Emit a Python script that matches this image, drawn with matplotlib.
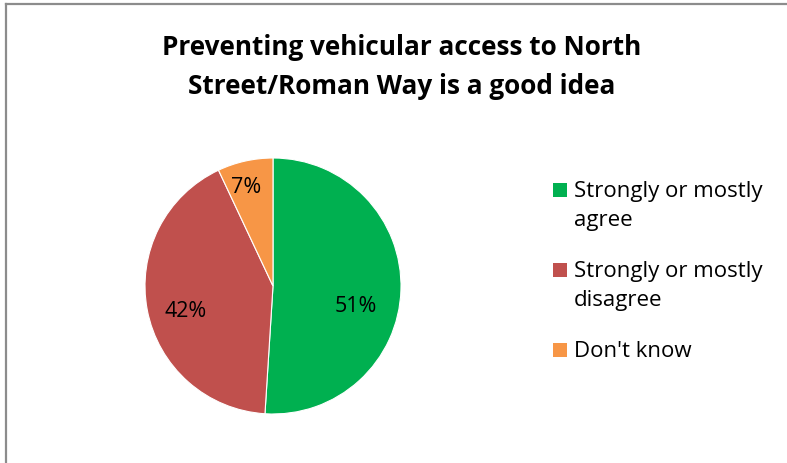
import matplotlib
matplotlib.use("Agg")
import matplotlib.pyplot as plt
from matplotlib.patches import Rectangle
from matplotlib.lines import Line2D

plt.rcParams['font.family'] = ['Open Sans', 'DejaVu Sans']

title = "Preventing vehicular access to North\nStreet/Roman Way is a good idea"
categories = ["Strongly or mostly\nagree", "Strongly or mostly\ndisagree", "Don't know"]
values = [51, 42, 7]
colors = ["#00B050", "#C0504D", "#F79646"]
label_pos = [(0.648, -0.164), (-0.68, -0.203), (-0.21, 0.766)]

W, H = 787, 463
fig = plt.figure(figsize=(W / 100, H / 100), dpi=100)
fig.patch.set_facecolor("white")

# chart border (top and left visible)
fig.add_artist(Line2D([6 / W, 6 / W], [0, 1 - 3.5 / H], transform=fig.transFigure,
                      color="#8c8c8c", lw=1.6))
fig.add_artist(Line2D([6 / W, 1], [1 - 3.5 / H, 1 - 3.5 / H], transform=fig.transFigure,
                      color="#8c8c8c", lw=1.6))

cx, cy, r = 273, 286, 128
ax = fig.add_axes([(cx - r) / W, (H - cy - r) / H, 2 * r / W, 2 * r / H])
wedges, texts, autotexts = ax.pie(values, colors=colors, startangle=90, counterclock=False,
                                  autopct=lambda p: f"{p:.0f}%", pctdistance=0.7,
                                  wedgeprops=dict(edgecolor="white", linewidth=0.8),
                                  textprops=dict(fontsize=15.5, color="black"))
for t, pos in zip(autotexts, label_pos):
    t.set_position(pos)
ax.set_xlim(-1, 1)
ax.set_ylim(-1, 1)
ax.set_aspect("equal")
ax.axis("off")

fig.text(402 / W, 1 - 67 / H, title, ha="center", va="center", fontsize=18.8,
         fontweight="bold", linespacing=1.55)

# legend
entry_y = [190, 270, 350]
for cat, col, y in zip(categories, colors, entry_y):
    fig.add_artist(Rectangle((553 / W, 1 - (y + 7) / H), 14 / W, 14 / H,
                             transform=fig.transFigure, facecolor=col, edgecolor="none"))
    fig.text(574 / W, 1 - (y - 9) / H, cat, ha="left", va="top", fontsize=16,
             linespacing=1.5)

fig.savefig("out.png", dpi=100)
